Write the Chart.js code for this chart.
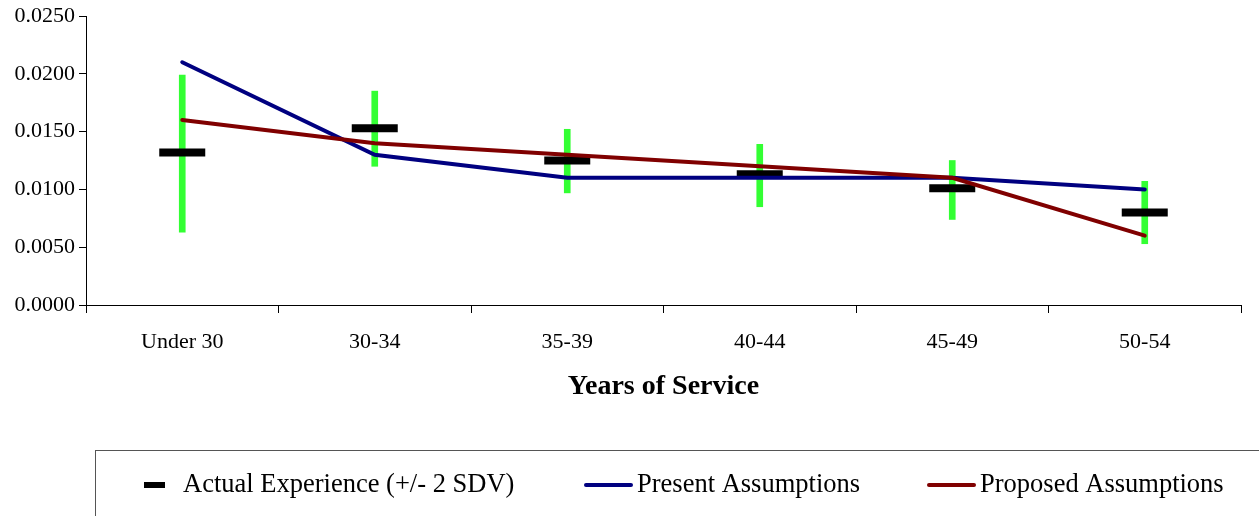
<!DOCTYPE html>
<html>
<head>
<meta charset="utf-8">
<script src="https://cdn.jsdelivr.net/npm/chart.js@4"></script>
<style>
  html, body { margin: 0; padding: 0; background: #fff; }
  #wrap { width: 1259px; height: 516px; }
</style>
</head>
<body>
<div id="wrap"><canvas id="rates" width="1259" height="516"></canvas></div>
<script>
const categories = ['Under 30', '30-34', '35-39', '40-44', '45-49', '50-54']
const actual = [0.0132, 0.0153, 0.0125, 0.0113, 0.0101, 0.0080]
const rangeLow = [0.0063, 0.0120, 0.0097, 0.0085, 0.0074, 0.0053]
const rangeHigh = [0.0199, 0.0185, 0.0152, 0.0139, 0.0125, 0.0107]
const present = [0.0210, 0.0130, 0.0110, 0.0110, 0.0110, 0.0100]
const proposed = [0.0160, 0.0140, 0.0130, 0.0120, 0.0110, 0.0060]
const yTicks = [0, 0.005, 0.01, 0.015, 0.02, 0.025]

const serif = '"Liberation Serif", "Times New Roman", serif'

// legend drawn by hand so it can sit in a bordered box like the original
const boxLegend = {
    id: 'boxLegend',
    afterDraw(chart) {
        const ctx = chart.ctx
        ctx.save()
        ctx.strokeStyle = '#555'
        ctx.lineWidth = 1
        ctx.strokeRect(95.5, 450.5, 1200, 100)
        const y = 485
        ctx.font = '26.5px ' + serif
        ctx.fillStyle = '#000'
        ctx.textBaseline = 'middle'

        ctx.fillStyle = '#000'
        ctx.fillRect(144, y - 3, 21, 6)
        ctx.fillText(chart.data.datasets[1].label, 183, y)

        ctx.strokeStyle = '#000080'
        ctx.lineWidth = 4
        ctx.lineCap = 'round'
        ctx.beginPath(); ctx.moveTo(586, y); ctx.lineTo(631, y); ctx.stroke()
        ctx.fillText(chart.data.datasets[2].label, 637, y)

        ctx.strokeStyle = '#800000'
        ctx.beginPath(); ctx.moveTo(929, y); ctx.lineTo(974, y); ctx.stroke()
        ctx.fillText(chart.data.datasets[3].label, 980, y)
        ctx.restore()
    }
}

const ctx = document.querySelector('#rates')
const rateChart = new Chart(ctx, {
    type: 'bar',
    data: {
        labels: categories,
        datasets: [
            {
                label: 'Range (+/- 2 SDV)',
                data: rangeLow.map((lo, i) => [lo, rangeHigh[i]]),
                backgroundColor: '#33ff33',
                barThickness: 6,
                order: 4
            },
            {
                type: 'line',
                label: 'Actual Experience (+/- 2 SDV)',
                data: actual,
                showLine: false,
                pointStyle: 'line',
                pointRadius: 23,
                pointBorderWidth: 8,
                borderColor: '#000',
                backgroundColor: '#000',
                order: 3
            },
            {
                type: 'line',
                label: 'Present Assumptions',
                data: present,
                borderColor: '#000080',
                borderWidth: 4,
                borderCapStyle: 'round',
                lineTension: 0,
                pointRadius: 0,
                order: 2
            },
            {
                type: 'line',
                label: 'Proposed Assumptions',
                data: proposed,
                borderColor: '#800000',
                borderWidth: 4,
                borderCapStyle: 'round',
                lineTension: 0,
                pointRadius: 0,
                order: 1
            }
        ]
    },
    options: {
        responsive: false,
        animation: false,
        layout: { autoPadding: false, padding: { top: 16, right: 18, left: 0, bottom: 111 } },
        plugins: {
            legend: { display: false },
            tooltip: { enabled: false }
        },
        scales: {
            x: {
                offset: true,
                grid: { offset: true, drawOnChartArea: false, tickLength: 8, color: '#000' },
                border: { color: '#000', width: 1 },
                ticks: { color: '#000', padding: 16, font: { family: serif, size: 22 } },
                title: {
                    display: true,
                    text: 'Years of Service',
                    color: '#000',
                    font: { family: serif, size: 28, weight: 'bold' },
                    padding: { top: 0, bottom: 1 }
                },
                afterFit(scale) {
                    scale.height = 100
                    scale.paddingLeft = 0
                    scale.paddingRight = 0
                }
            },
            y: {
                min: 0,
                max: 0.025,
                afterBuildTicks(scale) { scale.ticks = yTicks.map(v => ({ value: v })) },
                grid: { drawOnChartArea: false, tickLength: 7, color: '#000' },
                border: { color: '#000', width: 1 },
                ticks: {
                    color: '#000',
                    padding: 4,
                    font: { family: serif, size: 22 },
                    callback: v => v.toFixed(4)
                },
                afterFit(scale) {
                    scale.width = 86
                    scale.paddingTop = 0
                    scale.paddingBottom = 0
                }
            }
        }
    },
    plugins: [boxLegend]
})
</script>
</body>
</html>
